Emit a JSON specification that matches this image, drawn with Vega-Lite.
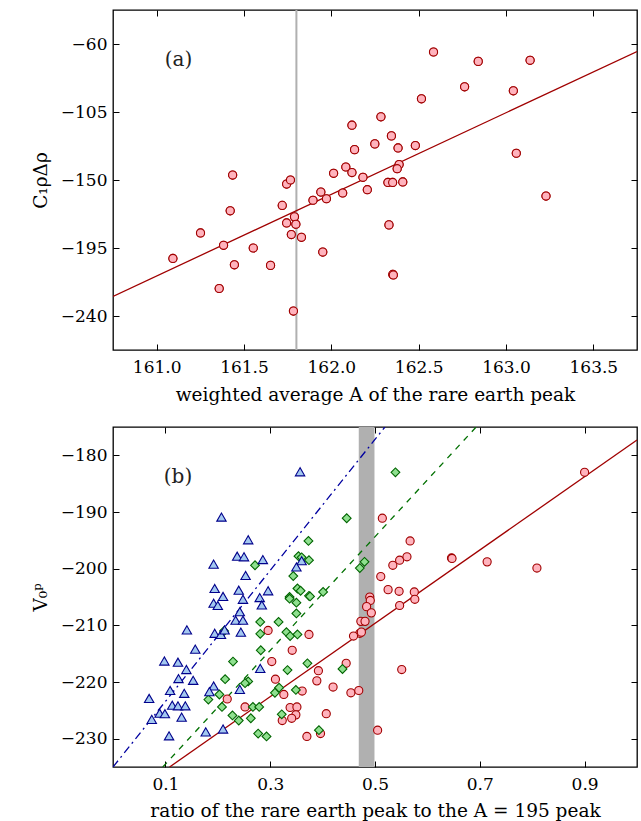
{
  "$schema": "https://vega.github.io/schema/vega-lite/v6.json",
  "background": "white",
  "padding": {"left": 30, "top": 8, "right": 4, "bottom": 0},
  "spacing": 20,
  "config": {
    "font": "DejaVu Serif",
    "view": {"stroke": "black", "strokeWidth": 1.3},
    "axis": {
      "labelFont": "DejaVu Serif", "titleFont": "DejaVu Serif",
      "labelFontSize": 17, "titleFontSize": 18.5, "titleFontWeight": "normal",
      "labelColor": "black", "titleColor": "black", "tickColor": "black",
      "domain": false, "grid": false, "tickSize": -6, "tickWidth": 1, "labelPadding": 15, "titlePadding": 10,
      "labelExpr": "datum.value < 0 ? '\u2212' + format(-datum.value, 'd') : datum.label"
    }
  },
  "datasets": {
    "a_points": [
      {"x":162.585,"y":-65.3},{"x":162.841,"y":-71.5},{"x":163.138,"y":-70.8},{"x":162.763,"y":-88.3},{"x":163.042,"y":-91.0},
      {"x":162.516,"y":-96.3},{"x":162.284,"y":-108.2},{"x":162.118,"y":-113.7},{"x":162.344,"y":-120.8},{"x":162.382,"y":-128.8},
      {"x":162.481,"y":-127.2},{"x":162.133,"y":-129.9},{"x":162.249,"y":-126.1},{"x":163.059,"y":-132.3},{"x":162.388,"y":-139.8},
      {"x":162.377,"y":-142.5},{"x":162.083,"y":-141.4},{"x":162.118,"y":-145.1},{"x":162.013,"y":-145.6},{"x":162.181,"y":-148.2},
      {"x":162.324,"y":-151.6},{"x":162.351,"y":-151.6},{"x":162.409,"y":-151.3},{"x":161.435,"y":-146.7},{"x":161.744,"y":-152.7},
      {"x":161.766,"y":-150.0},{"x":162.206,"y":-156.4},{"x":161.940,"y":-158.0},{"x":162.065,"y":-158.6},{"x":163.229,"y":-160.6},
      {"x":161.895,"y":-163.4},{"x":161.972,"y":-162.4},{"x":161.719,"y":-166.8},{"x":161.421,"y":-170.4},{"x":161.789,"y":-174.4},
      {"x":161.744,"y":-178.4},{"x":161.797,"y":-179.3},{"x":161.251,"y":-185.0},{"x":161.771,"y":-186.1},{"x":161.829,"y":-187.9},
      {"x":162.330,"y":-179.7},{"x":161.383,"y":-193.2},{"x":161.553,"y":-195.0},{"x":161.951,"y":-197.7},{"x":161.093,"y":-201.9},
      {"x":161.445,"y":-206.1},{"x":161.652,"y":-206.5},{"x":162.352,"y":-212.5},{"x":162.355,"y":-212.8},{"x":161.358,"y":-221.8},
      {"x":161.783,"y":-236.7}
    ],
    "a_line": [{"x":160.75,"y":-227.0},{"x":163.75,"y":-65.0}],
    "a_vline": [{"x":161.8}],
    "a_label": [{"x":161.125,"y":-70.5,"t":"(a)"}],
    "b_points": [
      {"x":0.900,"y":-183.0,"s":"red"},{"x":0.514,"y":-191.1,"s":"red"},{"x":0.567,"y":-195.1,"s":"red"},{"x":0.534,"y":-199.4,"s":"red"},
      {"x":0.547,"y":-198.5,"s":"red"},{"x":0.561,"y":-197.9,"s":"red"},{"x":0.646,"y":-198.1,"s":"red"},{"x":0.647,"y":-198.2,"s":"red"},
      {"x":0.714,"y":-198.8,"s":"red"},{"x":0.809,"y":-199.9,"s":"red"},{"x":0.511,"y":-201.4,"s":"red"},{"x":0.525,"y":-203.7,"s":"red"},
      {"x":0.546,"y":-204.0,"s":"red"},{"x":0.575,"y":-204.1,"s":"red"},{"x":0.576,"y":-205.4,"s":"red"},{"x":0.547,"y":-206.5,"s":"red"},
      {"x":0.490,"y":-205.0,"s":"red"},{"x":0.491,"y":-205.6,"s":"red"},{"x":0.484,"y":-206.7,"s":"red"},{"x":0.493,"y":-207.8,"s":"red"},
      {"x":0.473,"y":-209.3,"s":"red"},{"x":0.481,"y":-209.3,"s":"red"},{"x":0.471,"y":-211.4,"s":"red"},{"x":0.474,"y":-211.2,"s":"red"},
      {"x":0.459,"y":-211.9,"s":"red"},{"x":0.445,"y":-216.7,"s":"red"},{"x":0.551,"y":-217.8,"s":"red"},{"x":0.420,"y":-220.9,"s":"red"},
      {"x":0.454,"y":-221.9,"s":"red"},{"x":0.469,"y":-221.5,"s":"red"},{"x":0.505,"y":-228.5,"s":"red"},{"x":0.296,"y":-210.9,"s":"red"},
      {"x":0.374,"y":-211.6,"s":"red"},{"x":0.342,"y":-214.4,"s":"red"},{"x":0.303,"y":-216.4,"s":"red"},{"x":0.392,"y":-218.0,"s":"red"},
      {"x":0.310,"y":-219.5,"s":"red"},{"x":0.389,"y":-219.8,"s":"red"},{"x":0.361,"y":-221.6,"s":"red"},{"x":0.326,"y":-222.2,"s":"red"},
      {"x":0.218,"y":-223.0,"s":"red"},{"x":0.252,"y":-224.4,"s":"red"},{"x":0.338,"y":-224.5,"s":"red"},{"x":0.351,"y":-224.4,"s":"red"},
      {"x":0.349,"y":-225.8,"s":"red"},{"x":0.407,"y":-225.6,"s":"red"},{"x":0.323,"y":-226.8,"s":"red"},{"x":0.341,"y":-226.4,"s":"red"},
      {"x":0.370,"y":-229.6,"s":"red"},{"x":0.396,"y":-229.1,"s":"red"},
      {"x":0.539,"y":-183.0,"s":"green"},{"x":0.446,"y":-191.1,"s":"green"},{"x":0.471,"y":-199.9,"s":"green"},{"x":0.480,"y":-198.8,"s":"green"},
      {"x":0.438,"y":-217.7,"s":"green"},{"x":0.373,"y":-195.1,"s":"green"},{"x":0.271,"y":-199.4,"s":"green"},{"x":0.354,"y":-197.8,"s":"green"},
      {"x":0.360,"y":-198.0,"s":"green"},{"x":0.374,"y":-198.5,"s":"green"},{"x":0.344,"y":-201.3,"s":"green"},{"x":0.352,"y":-203.5,"s":"green"},
      {"x":0.358,"y":-203.9,"s":"green"},{"x":0.374,"y":-204.8,"s":"green"},{"x":0.401,"y":-204.1,"s":"green"},{"x":0.337,"y":-205.0,"s":"green"},
      {"x":0.337,"y":-205.3,"s":"green"},{"x":0.350,"y":-206.0,"s":"green"},{"x":0.376,"y":-204.9,"s":"green"},{"x":0.350,"y":-207.9,"s":"green"},
      {"x":0.281,"y":-209.4,"s":"green"},{"x":0.316,"y":-209.4,"s":"green"},{"x":0.281,"y":-211.5,"s":"green"},{"x":0.331,"y":-211.2,"s":"green"},
      {"x":0.338,"y":-211.9,"s":"green"},{"x":0.352,"y":-211.6,"s":"green"},{"x":0.212,"y":-211.0,"s":"green"},{"x":0.282,"y":-214.4,"s":"green"},
      {"x":0.229,"y":-216.4,"s":"green"},{"x":0.371,"y":-216.7,"s":"green"},{"x":0.333,"y":-217.9,"s":"green"},{"x":0.214,"y":-219.5,"s":"green"},
      {"x":0.258,"y":-219.9,"s":"green"},{"x":0.252,"y":-220.2,"s":"green"},{"x":0.317,"y":-221.0,"s":"green"},{"x":0.349,"y":-221.4,"s":"green"},
      {"x":0.309,"y":-221.9,"s":"green"},{"x":0.203,"y":-222.2,"s":"green"},{"x":0.182,"y":-223.1,"s":"green"},{"x":0.208,"y":-224.4,"s":"green"},
      {"x":0.267,"y":-224.4,"s":"green"},{"x":0.279,"y":-224.4,"s":"green"},{"x":0.228,"y":-225.9,"s":"green"},{"x":0.240,"y":-226.8,"s":"green"},
      {"x":0.263,"y":-226.4,"s":"green"},{"x":0.322,"y":-225.7,"s":"green"},{"x":0.393,"y":-228.5,"s":"green"},{"x":0.277,"y":-229.1,"s":"green"},
      {"x":0.293,"y":-229.6,"s":"green"},
      {"x":0.357,"y":-182.9,"s":"blue"},{"x":0.207,"y":-190.9,"s":"blue"},{"x":0.258,"y":-194.9,"s":"blue"},{"x":0.237,"y":-197.8,"s":"blue"},
      {"x":0.250,"y":-197.9,"s":"blue"},{"x":0.286,"y":-198.4,"s":"blue"},{"x":0.192,"y":-199.2,"s":"blue"},{"x":0.360,"y":-198.6,"s":"blue"},
      {"x":0.350,"y":-199.7,"s":"blue"},{"x":0.253,"y":-201.2,"s":"blue"},{"x":0.194,"y":-203.5,"s":"blue"},{"x":0.240,"y":-203.8,"s":"blue"},
      {"x":0.296,"y":-203.9,"s":"blue"},{"x":0.210,"y":-204.9,"s":"blue"},{"x":0.248,"y":-205.4,"s":"blue"},{"x":0.280,"y":-205.1,"s":"blue"},
      {"x":0.284,"y":-206.4,"s":"blue"},{"x":0.192,"y":-206.1,"s":"blue"},{"x":0.200,"y":-206.5,"s":"blue"},{"x":0.242,"y":-207.6,"s":"blue"},
      {"x":0.234,"y":-209.1,"s":"blue"},{"x":0.248,"y":-209.1,"s":"blue"},{"x":0.141,"y":-210.8,"s":"blue"},{"x":0.194,"y":-211.4,"s":"blue"},
      {"x":0.206,"y":-211.6,"s":"blue"},{"x":0.213,"y":-210.8,"s":"blue"},{"x":0.244,"y":-211.2,"s":"blue"},{"x":0.157,"y":-214.2,"s":"blue"},
      {"x":0.098,"y":-216.3,"s":"blue"},{"x":0.124,"y":-216.5,"s":"blue"},{"x":0.140,"y":-217.8,"s":"blue"},{"x":0.281,"y":-217.6,"s":"blue"},
      {"x":0.125,"y":-219.4,"s":"blue"},{"x":0.153,"y":-219.7,"s":"blue"},{"x":0.109,"y":-221.5,"s":"blue"},{"x":0.192,"y":-220.7,"s":"blue"},
      {"x":0.184,"y":-221.7,"s":"blue"},{"x":0.242,"y":-221.3,"s":"blue"},{"x":0.136,"y":-222.0,"s":"blue"},{"x":0.069,"y":-222.9,"s":"blue"},
      {"x":0.113,"y":-224.1,"s":"blue"},{"x":0.124,"y":-224.2,"s":"blue"},{"x":0.138,"y":-224.2,"s":"blue"},{"x":0.089,"y":-225.5,"s":"blue"},
      {"x":0.099,"y":-225.6,"s":"blue"},{"x":0.131,"y":-226.2,"s":"blue"},{"x":0.074,"y":-226.6,"s":"blue"},{"x":0.177,"y":-228.8,"s":"blue"},
      {"x":0.210,"y":-228.3,"s":"blue"},{"x":0.107,"y":-229.5,"s":"blue"}
    ],
    "b_lines": [
      {"x":0.108,"y":-235.0,"s":"red"},{"x":1.0,"y":-177.3,"s":"red"},
      {"x":0.095,"y":-235.0,"s":"green"},{"x":0.693,"y":-175.0,"s":"green"},
      {"x":0.0,"y":-235.0,"s":"blue"},{"x":0.519,"y":-175.0,"s":"blue"}
    ],
    "b_band": [{"x1":0.469,"x2":0.499}],
    "b_label": [{"x":0.124,"y":-183.8,"t":"(b)"}]
  },
  "vconcat": [
    {
      "width": 524, "height": 340,
      "layer": [
        {"data": {"name": "a_points"}, "mark": {"type": "point", "shape": "circle", "filled": true, "fill": "#ffb3bd", "stroke": "#a00000", "strokeWidth": 1.1, "opacity": 1, "size": 66},
         "encoding": {
           "x": {"field": "x", "type": "quantitative", "scale": {"domain": [160.75, 163.75], "nice": false, "zero": false},
                 "axis": {"orient": "bottom", "values": [161, 161.5, 162, 162.5, 163, 163.5], "title": "weighted average A of the rare earth peak"}},
           "y": {"field": "y", "type": "quantitative", "scale": {"domain": [-262.5, -37.5], "nice": false, "zero": false},
                 "axis": {"orient": "left", "values": [-240, -195, -150, -105, -60], "title": "C₁ρΔρ", "labelPadding": 12}}
         }},
        {"data": {"name": "a_vline"}, "mark": {"type": "rule", "color": "#b0b0b0", "strokeWidth": 2},
         "encoding": {"x": {"field": "x", "type": "quantitative", "axis": null}}},
        {"data": {"name": "a_line"}, "mark": {"type": "line", "color": "#a00000", "strokeWidth": 1.3, "clip": true},
         "encoding": {"x": {"field": "x", "type": "quantitative", "axis": null}, "y": {"field": "y", "type": "quantitative", "axis": null}}},
        {"data": {"name": "a_points"}, "mark": {"type": "point", "shape": "circle", "filled": true, "fill": "#ffb3bd", "stroke": "#a00000", "strokeWidth": 1.1, "opacity": 1, "size": 66},
         "encoding": {"x": {"field": "x", "type": "quantitative", "axis": null}, "y": {"field": "y", "type": "quantitative", "axis": null}}},
        {"data": {"name": "a_label"}, "mark": {"type": "text", "fontSize": 20, "font": "DejaVu Serif", "color": "#222222"},
         "encoding": {"x": {"field": "x", "type": "quantitative", "axis": null}, "y": {"field": "y", "type": "quantitative", "axis": null}, "text": {"field": "t"}}},
        {"data": {"name": "a_points"}, "mark": {"type": "point", "opacity": 0},
         "encoding": {
           "x": {"field": "x", "type": "quantitative", "axis": {"orient": "top", "values": [161, 161.5, 162, 162.5, 163, 163.5], "labels": false, "title": null}},
           "y": {"field": "y", "type": "quantitative", "axis": {"orient": "right", "values": [-240, -195, -150, -105, -60], "labels": false, "title": null}}
         }}
      ],
      "resolve": {"axis": {"x": "independent", "y": "independent"}}
    },
    {
      "width": 524, "height": 340,
      "layer": [
        {"data": {"name": "b_band"}, "mark": {"type": "rect", "color": "#b0b0b0"},
         "encoding": {"x": {"field": "x1", "type": "quantitative", "scale": {"domain": [0, 1], "nice": false, "zero": false},
                            "axis": {"orient": "bottom", "values": [0.1, 0.3, 0.5, 0.7, 0.9], "format": ".1f", "title": "ratio of the rare earth peak to the A = 195 peak", "labelPadding": 15, "titlePadding": 9}},
                      "x2": {"field": "x2"}}},
        {"data": {"name": "b_lines"}, "transform": [{"filter": "datum.s == 'red'"}], "mark": {"type": "line", "color": "#a00000", "strokeWidth": 1.3, "clip": true},
         "encoding": {"x": {"field": "x", "type": "quantitative", "axis": null},
                      "y": {"field": "y", "type": "quantitative", "scale": {"domain": [-235, -175], "nice": false, "zero": false},
                            "axis": {"orient": "left", "values": [-230, -220, -210, -200, -190, -180], "title": "V₀ᵖ", "labelPadding": 12}}}},
        {"data": {"name": "b_lines"}, "transform": [{"filter": "datum.s == 'green'"}], "mark": {"type": "line", "color": "#007000", "strokeWidth": 1.3, "strokeDash": [6, 6], "clip": true},
         "encoding": {"x": {"field": "x", "type": "quantitative", "axis": null}, "y": {"field": "y", "type": "quantitative", "axis": null}}},
        {"data": {"name": "b_lines"}, "transform": [{"filter": "datum.s == 'blue'"}], "mark": {"type": "line", "color": "#0000a0", "strokeWidth": 1.3, "strokeDash": [8, 4, 2, 4], "clip": true},
         "encoding": {"x": {"field": "x", "type": "quantitative", "axis": null}, "y": {"field": "y", "type": "quantitative", "axis": null}}},
        {"data": {"name": "b_points"}, "mark": {"type": "point", "filled": true, "opacity": 1, "strokeWidth": 1.1},
         "encoding": {
           "x": {"field": "x", "type": "quantitative", "axis": null},
           "y": {"field": "y", "type": "quantitative", "axis": null},
           "shape": {"field": "s", "type": "nominal", "scale": {"domain": ["red", "green", "blue"], "range": ["circle", "diamond", "triangle-up"]}, "legend": null},
           "fill": {"field": "s", "type": "nominal", "scale": {"domain": ["red", "green", "blue"], "range": ["#ffb3bd", "#8fe08f", "#a3c8f0"]}, "legend": null},
           "stroke": {"field": "s", "type": "nominal", "scale": {"domain": ["red", "green", "blue"], "range": ["#a00000", "#006400", "#00008b"]}, "legend": null},
           "size": {"field": "s", "type": "nominal", "scale": {"domain": ["red", "green", "blue"], "range": [66, 88, 115]}, "legend": null},
           "order": {"field": "s", "type": "nominal", "sort": "descending"}
         }},
        {"data": {"name": "b_label"}, "mark": {"type": "text", "fontSize": 20, "font": "DejaVu Serif", "color": "#222222"},
         "encoding": {"x": {"field": "x", "type": "quantitative", "axis": null}, "y": {"field": "y", "type": "quantitative", "axis": null}, "text": {"field": "t"}}},
        {"data": {"name": "b_points"}, "mark": {"type": "point", "opacity": 0},
         "encoding": {
           "x": {"field": "x", "type": "quantitative", "axis": {"orient": "top", "values": [0.1, 0.3, 0.5, 0.7, 0.9], "labels": false, "title": null}},
           "y": {"field": "y", "type": "quantitative", "axis": {"orient": "right", "values": [-230, -220, -210, -200, -190, -180], "labels": false, "title": null}}
         }}
      ],
      "resolve": {"axis": {"x": "independent", "y": "independent"}}
    }
  ]
}
